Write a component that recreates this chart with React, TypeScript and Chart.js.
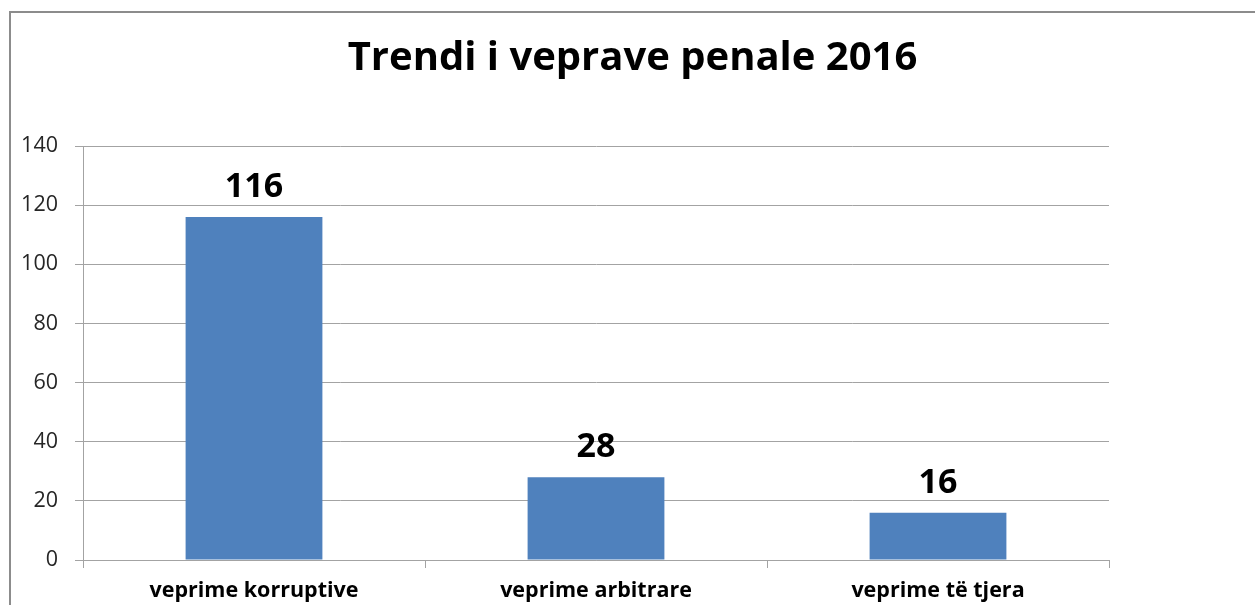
import React, { useEffect, useRef } from "react";
import { Chart, registerables } from "chart.js";

Chart.register(...registerables);

const categories = ["veprime korruptive", "veprime arbitrare", "veprime të tjera"];
const values = [116, 28, 16];
const yTicks = [0, 20, 40, 60, 80, 100, 120, 140];
const titleText = "Trendi i veprave penale 2016";

const GRID = "#A3A3A3";
const BAR = "#4F81BD";
const FRAME_LEFT = 10;

const dataLabels = {
  id: "dataLabels",
  afterDatasetsDraw(chart: any) {
    const ctx = chart.ctx;
    const meta = chart.getDatasetMeta(0);
    ctx.save();
    ctx.font = "bold 34px 'Open Sans'";
    ctx.fillStyle = "#000";
    ctx.textAlign = "center";
    ctx.textBaseline = "alphabetic";
    meta.data.forEach((el: any, i: number) => {
      ctx.fillText(String(values[i]), el.x, el.y - 20);
    });
    ctx.restore();
  },
};

const centeredTitle = {
  id: "centeredTitle",
  afterDraw(chart: any) {
    const ctx = chart.ctx;
    ctx.save();
    ctx.font = "bold 40px 'Open Sans'";
    ctx.fillStyle = "#000";
    ctx.textAlign = "center";
    ctx.textBaseline = "alphabetic";
    ctx.fillText(titleText, (FRAME_LEFT + chart.width) / 2, 70);
    ctx.restore();
  },
};

export default function App() {
  const ref = useRef<HTMLCanvasElement | null>(null);
  useEffect(() => {
    if (!ref.current) return;
    const chart = new Chart(ref.current, {
      type: "bar",
      data: {
        labels: categories,
        datasets: [
          {
            data: values,
            backgroundColor: BAR,
            borderWidth: 0,
            categoryPercentage: 1,
            barPercentage: 0.4,
          },
        ],
      },
      options: {
        responsive: false,
        animation: false,
        devicePixelRatio: 1,
        layout: { padding: { left: 0, right: 146, top: 146, bottom: 0 } },
        plugins: {
          legend: { display: false },
          tooltip: { enabled: false },
          title: { display: false },
        },
        scales: {
          x: {
            offset: true,
            grid: {
              display: true,
              drawOnChartArea: false,
              drawTicks: true,
              tickLength: 8,
              offset: true,
              color: GRID,
            },
            border: { display: true, color: GRID },
            ticks: {
              color: "#000",
              padding: 10,
              font: { family: "'Open Sans'", size: 21.5, weight: "bold" },
              maxRotation: 0,
            },
            afterFit(scale: any) {
              scale.height = 45;
            },
          },
          y: {
            min: 0,
            max: 140,
            afterBuildTicks(scale: any) {
              scale.ticks = yTicks.map((v) => ({ value: v }));
            },
            grid: { color: GRID, tickLength: 8 },
            border: { display: true, color: GRID },
            ticks: {
              color: "#262626",
              padding: 17,
              font: { family: "'Open Sans'", size: 21.5 },
            },
            afterFit(scale: any) {
              scale.width = 83;
            },
          },
        },
      },
      plugins: [dataLabels, centeredTitle],
    });
    return () => chart.destroy();
  }, []);

  return (
    <div
      style={{
        position: "fixed",
        left: 0,
        top: 0,
        width: 1255,
        height: 605,
        overflow: "hidden",
        background: "#fff",
      }}
    >
      <div
        style={{
          position: "absolute",
          left: 9,
          top: 11,
          width: 1400,
          height: 800,
          borderLeft: "2px solid #8C8C8C",
          borderTop: "2px solid #8C8C8C",
        }}
      />
      <canvas
        ref={ref}
        width={1255}
        height={605}
        style={{ position: "absolute", left: 0, top: 0, display: "block" }}
      />
    </div>
  );
}
